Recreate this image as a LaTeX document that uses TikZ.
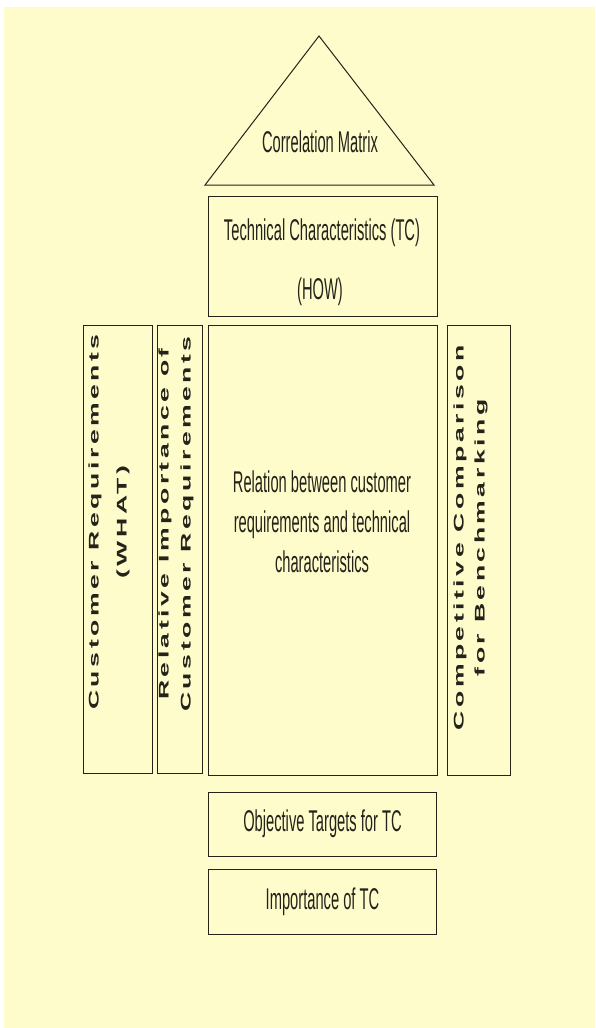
\documentclass[tikz,border=0pt]{standalone}
\usepackage{fontspec}
\setmainfont{Liberation Sans}
\newfontfamily\narrowfont[FakeStretch=0.49]{Liberation Sans}
\newfontfamily\widefont[FakeStretch=1.9,LetterSpace=25]{Liberation Sans}
\usetikzlibrary{positioning}
\definecolor{paper}{RGB}{255,252,204}
\definecolor{ink}{RGB}{35,35,25}
\tikzset{
  housebox/.style={draw=ink,line width=1pt,fill=paper,inner sep=0pt},
  narrowlabel/.style={font=\narrowfont\fontsize{30}{40}\selectfont,
    text=ink,align=center,inner sep=0pt},
  widelabel/.style={font=\widefont\bfseries\fontsize{14}{#1}\selectfont,
    text=ink,align=center,rotate=90,inner sep=0pt}
}

\begin{document}
\begin{tikzpicture}[x=1pt,y=-1pt]
  \useasboundingbox (0,0) rectangle (595,1028);
  \fill[paper] (4,7) rectangle (595,1028);

  % roof
  \coordinate (roofL) at (205,185);
  \coordinate (roofR) at (434,185);
  \coordinate (roofT) at (319,36);
  \draw[ink,line width=1pt,fill=paper] (roofL) -- (roofT) -- (roofR) -- cycle;
  \node[narrowlabel] (corr) at (320,142) {Correlation Matrix};

  % rooms
  \node[housebox,minimum width=229pt,minimum height=120pt] (tc) at (322.5,256) {};
  \node[housebox,minimum width=229pt,minimum height=450pt] (rel) at (322.5,550) {};
  \node[housebox,minimum width=69pt,minimum height=448pt] (what) at (117.5,549) {};
  \node[housebox,minimum width=45pt,minimum height=448pt] (relimp) at (179.5,549) {};
  \node[housebox,minimum width=63pt,minimum height=450pt] (bench) at (478.5,550) {};
  \node[housebox,minimum width=228pt,minimum height=64pt,below=16pt of rel] (targets) {};
  \node[housebox,minimum width=228pt,minimum height=65pt,below=12pt of targets] (imptc) {};

  % texts
  \node[narrowlabel] (tcA) at (322,233) {Technical Characteristics (TC)};
  \node[narrowlabel] (tcB) at (320,292) {(HOW)};
  \node[narrowlabel] (relT) at (322,522) {Relation between customer\\
    requirements and technical\\characteristics};
  \node[narrowlabel] (targetsT) at (targets) {Objective Targets for TC};
  \node[narrowlabel] (imptcT) at (imptc) {Importance of TC};
  \node[widelabel=28] (whatT) at (109,522) {Customer Requirements\\(WHAT)};
  \node[widelabel=22] (relimpT) at (176,524) {Relative Importance of\\Customer Requirements};
  \node[widelabel=21] (benchT) at (470.5,538) {Competitive Comparison\\for Benchmarking};
\end{tikzpicture}
\end{document}
